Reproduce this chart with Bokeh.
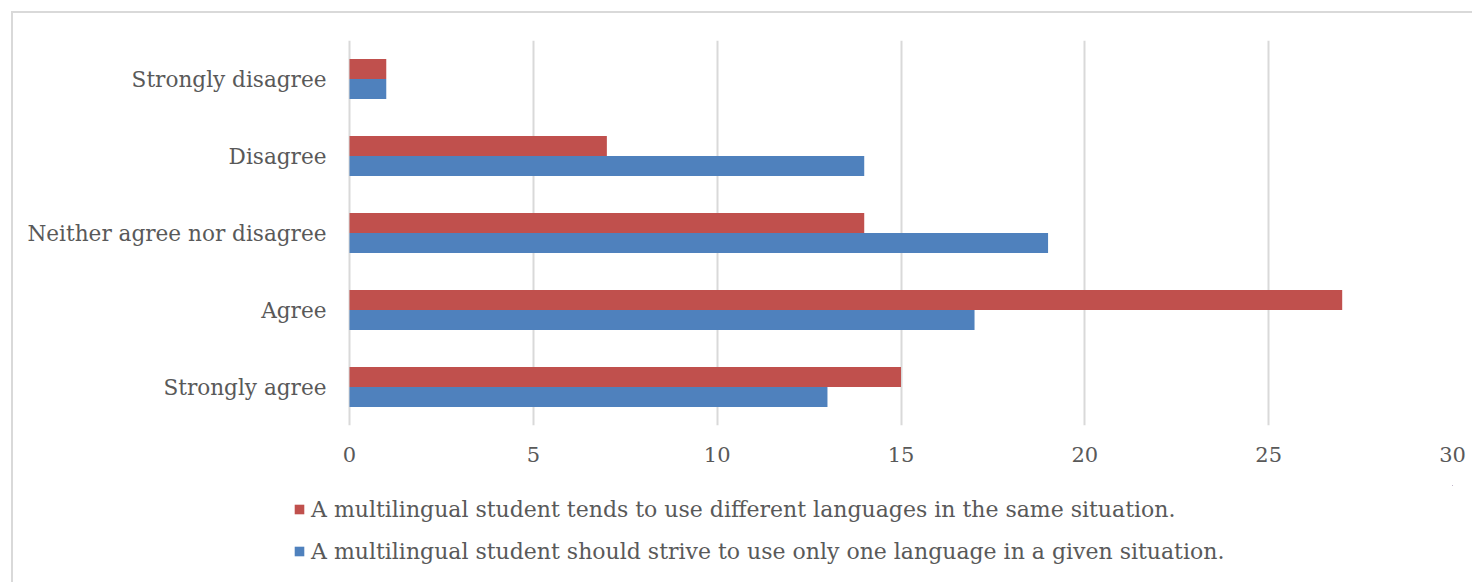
from bokeh.plotting import figure
from bokeh.models import (ColumnDataSource, FactorRange, Legend, LegendItem,
                          FixedTicker, Range1d)
from bokeh.layouts import column
from bokeh.transform import dodge
from bokeh.embed import file_html
from bokeh.resources import INLINE

# Data (categories listed bottom to top as drawn)
categories = ["Strongly agree", "Agree", "Neither agree nor disagree",
              "Disagree", "Strongly disagree"]
different_languages = [15, 27, 14, 7, 1]
one_language = [13, 17, 19, 14, 1]
series_names = [
    "A multilingual student tends to use different languages in the same situation.",
    "A multilingual student should strive to use only one language in a given situation.",
]
x_ticks = [0, 5, 10, 15, 20, 25, 30]
x_max = 30

RED = "#C0504D"
BLUE = "#4F81BD"
GRID = "#D9D9D9"
TXT = "#595959"
FONT = "DejaVu Serif"

src = ColumnDataSource(dict(cat=categories, red=different_languages, blue=one_language))

OFF = 13          # layout sits 11px in plus a 2px CSS border
W = 1472 - OFF
H1 = 485 - OFF
H2 = 582 - 485
FRAME_L = 293 - OFF   # shared frame left (legend glyphs start here)
ZERO_X = 349 - OFF    # where value 0 sits
RIGHT_PAD = 20
px_per_unit = (W - RIGHT_PAD - ZERO_X) / x_max
x_start = -(ZERO_X - FRAME_L) / px_per_unit

p = figure(width=W, height=H1, output_backend="svg", toolbar_location=None,
           y_range=FactorRange(factors=categories, range_padding=0),
           x_range=Range1d(x_start, x_max),
           min_border_left=FRAME_L, min_border_right=RIGHT_PAD,
           min_border_top=40 - OFF, min_border_bottom=H1 - (425 - OFF))
p.outline_line_color = None
p.background_fill_color = "white"
p.border_fill_color = "white"

bh = 0.26
p.hbar(y=dodge("cat", bh / 2, range=p.y_range), right="red", left=0,
       height=bh, source=src, fill_color=RED, line_color=None)
p.hbar(y=dodge("cat", -bh / 2, range=p.y_range), right="blue", left=0,
       height=bh, source=src, fill_color=BLUE, line_color=None)

p.xaxis.ticker = FixedTicker(ticks=x_ticks)
p.xaxis.axis_line_color = None
p.xaxis.major_tick_line_color = None
p.xaxis.minor_tick_line_color = None
p.xaxis.major_label_standoff = 15
p.xaxis.major_label_text_font = FONT
p.xaxis.major_label_text_font_size = "21px"
p.xaxis.major_label_text_color = TXT

p.yaxis.axis_line_color = None
p.yaxis.major_tick_line_color = None
p.yaxis.minor_tick_line_color = None
p.yaxis.major_label_standoff = -39
p.yaxis.major_label_text_font = FONT
p.yaxis.major_label_text_font_size = "21.6px"
p.yaxis.major_label_text_color = TXT

p.ygrid.grid_line_color = None
p.xgrid.grid_line_color = GRID
p.xgrid.grid_line_width = 2

# Legend panel: a second figure whose only visible content is the legend.
# Its ranges keep its (dummy) bars well outside its frame.
pl = figure(width=W, height=H2, output_backend="svg", toolbar_location=None,
            y_range=FactorRange(factors=categories), x_range=Range1d(-2, -1),
            x_axis_type=None, y_axis_type=None,
            min_border_left=FRAME_L, min_border_right=RIGHT_PAD,
            min_border_top=0, min_border_bottom=0)
pl.outline_line_color = None
pl.grid.grid_line_color = None
pl.background_fill_color = "white"
pl.border_fill_color = "white"
l_red = pl.hbar(y=dodge("cat", 50, range=pl.y_range), right="red", left=0,
                height=bh, source=src, fill_color=RED, line_color=None)
l_blue = pl.hbar(y=dodge("cat", 50, range=pl.y_range), right="blue", left=0,
                 height=bh, source=src, fill_color=BLUE, line_color=None)

legend = Legend(items=[LegendItem(label=series_names[0], renderers=[l_red]),
                       LegendItem(label=series_names[1], renderers=[l_blue])],
                location=(0, H2 - (564 - 485)), orientation="vertical",
                padding=0, margin=0, spacing=16,
                glyph_width=12, glyph_height=12, label_height=26,
                label_standoff=6,
                label_text_font=FONT, label_text_font_size="22px",
                label_text_color=TXT,
                background_fill_alpha=0, border_line_color=None)
pl.add_layout(legend)

layout = column(p, pl, margin=(11, 0, 0, 11), spacing=0,
                styles={"border-left": "2px solid #D9D9D9",
                        "border-top": "2px solid #D9D9D9"})

open("out.html", "w").write(file_html(layout, INLINE))
